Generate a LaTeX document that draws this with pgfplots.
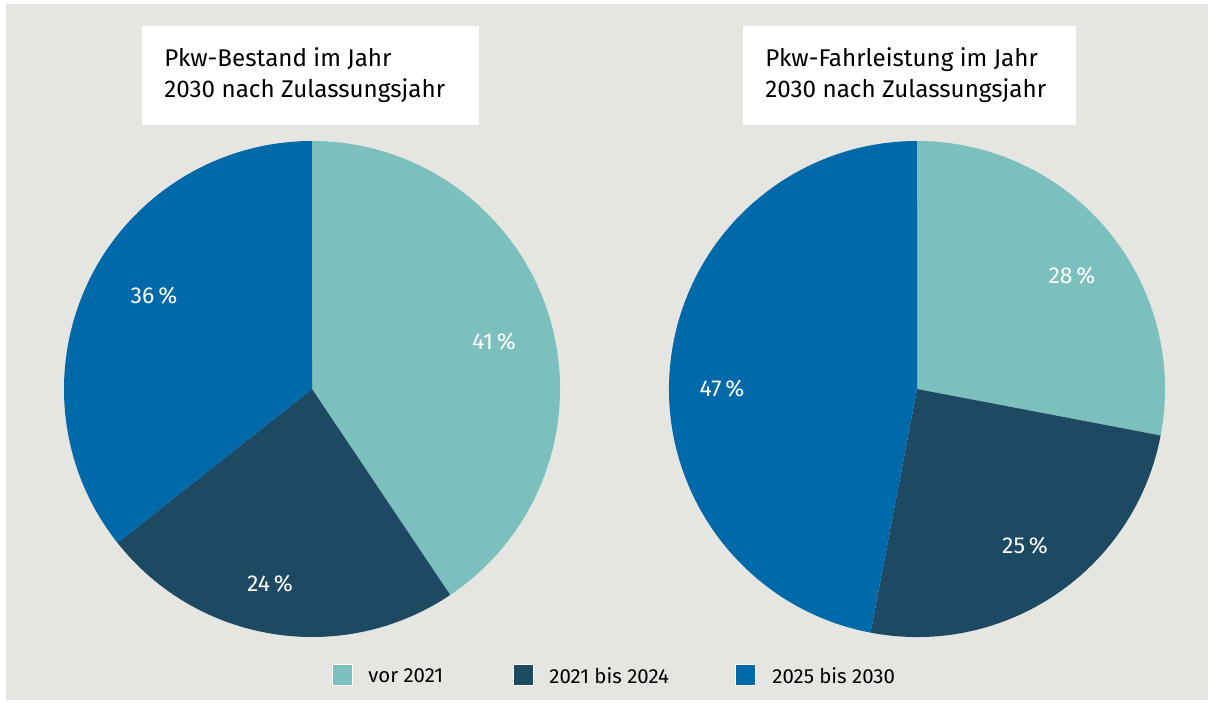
\documentclass[border=0pt]{standalone}
\usepackage{fontspec}
\setmainfont{Fira Sans}
\usepackage{pgfplots}
\usepackage{pgfplotstable}
\pgfplotsset{compat=1.18}

\definecolor{bg}{HTML}{E5E5E1}
\definecolor{c0}{HTML}{7BC0BC}
\definecolor{c1}{HTML}{1E4962}
\definecolor{c2}{HTML}{0069AA}

% shares in percent, label position in pixels
\pgfplotstableread{
val lx ly
41 494 342
24 270 584
36 154 296
}\bestand
\pgfplotstableread{
val lx ly
28 1072 276
25 1025 546
47 722 389
}\fahrleistung

% pie at pixel position (#2,#3), starting at 12 o'clock, clockwise
\newcommand\drawpie[3]{%
  \xdef\pietotal{0}%
  \pgfplotstableforeachcolumnelement{val}\of#1\as\v{%
    \pgfmathsetmacro\t{\pietotal+\v}\xdef\pietotal{\t}}%
  \xdef\pieangle{90}%
  \pgfplotstableforeachcolumnelement{val}\of#1\as\v{%
    \pgfmathsetmacro\sweep{\v/\pietotal*360}%
    \pgfmathsetmacro\endang{\pieangle-\sweep}%
    \fill[c\pgfplotstablerow] (axis cs:#2,#3) -- ++(\pieangle:124pt)
      arc[start angle=\pieangle, end angle=\endang, radius=124pt] -- cycle;
    \pgfplotstablegetelem{\pgfplotstablerow}{lx}\of#1\let\lx\pgfplotsretval
    \pgfplotstablegetelem{\pgfplotstablerow}{ly}\of#1\let\ly\pgfplotsretval
    \node[text=white, inner sep=0pt, font=\fontsize{11.5}{13}\selectfont]
      at (axis cs:\lx,\ly) {\v\,\%};
    \xdef\pieangle{\endang}%
  }%
}

\begin{document}
\begin{tikzpicture}
\begin{axis}[
    width=604pt, height=351.5pt, scale only axis,
    xmin=0, xmax=1208, ymin=0, ymax=703, y dir=reverse,
    axis lines=none, clip=false,
]
\pgfplotsextra{
  \fill[white] (axis cs:0,0) rectangle (axis cs:1208,703);
  \fill[bg] (axis cs:6,4) rectangle (axis cs:1208,700);
  \drawpie{\bestand}{312}{389}
  \drawpie{\fahrleistung}{917}{389}
  % titles
  \fill[white] (axis cs:142,26) rectangle (axis cs:479,125);
  \fill[white] (axis cs:743,26) rectangle (axis cs:1076,125);
  \node[anchor=base west, inner sep=0pt, align=left, font=\fontsize{12.1}{15.5}\selectfont]
    at (axis cs:164,97) {Pkw-Bestand im Jahr\\2030 nach Zulassungsjahr};
  \node[anchor=base west, inner sep=0pt, align=left, font=\fontsize{12.1}{15.5}\selectfont]
    at (axis cs:765,97) {Pkw-Fahrleistung im Jahr\\2030 nach Zulassungsjahr};
  % legend
  \fill[c0, draw=white, line width=0.5pt] (axis cs:332,664) rectangle (axis cs:352,685);
  \fill[c1, draw=white, line width=0.5pt] (axis cs:513,664) rectangle (axis cs:533,685);
  \fill[c2, draw=white, line width=0.5pt] (axis cs:735,664) rectangle (axis cs:755,685);
  \node[anchor=base west, inner sep=0pt, font=\fontsize{10.2}{12}\selectfont] at (axis cs:368,682) {vor 2021};
  \node[anchor=base west, inner sep=0pt, font=\fontsize{10.2}{12}\selectfont] at (axis cs:549,683) {2021 bis 2024};
  \node[anchor=base west, inner sep=0pt, font=\fontsize{10.2}{12}\selectfont] at (axis cs:772,683) {2025 bis 2030};
}
\end{axis}
\end{tikzpicture}
\end{document}
